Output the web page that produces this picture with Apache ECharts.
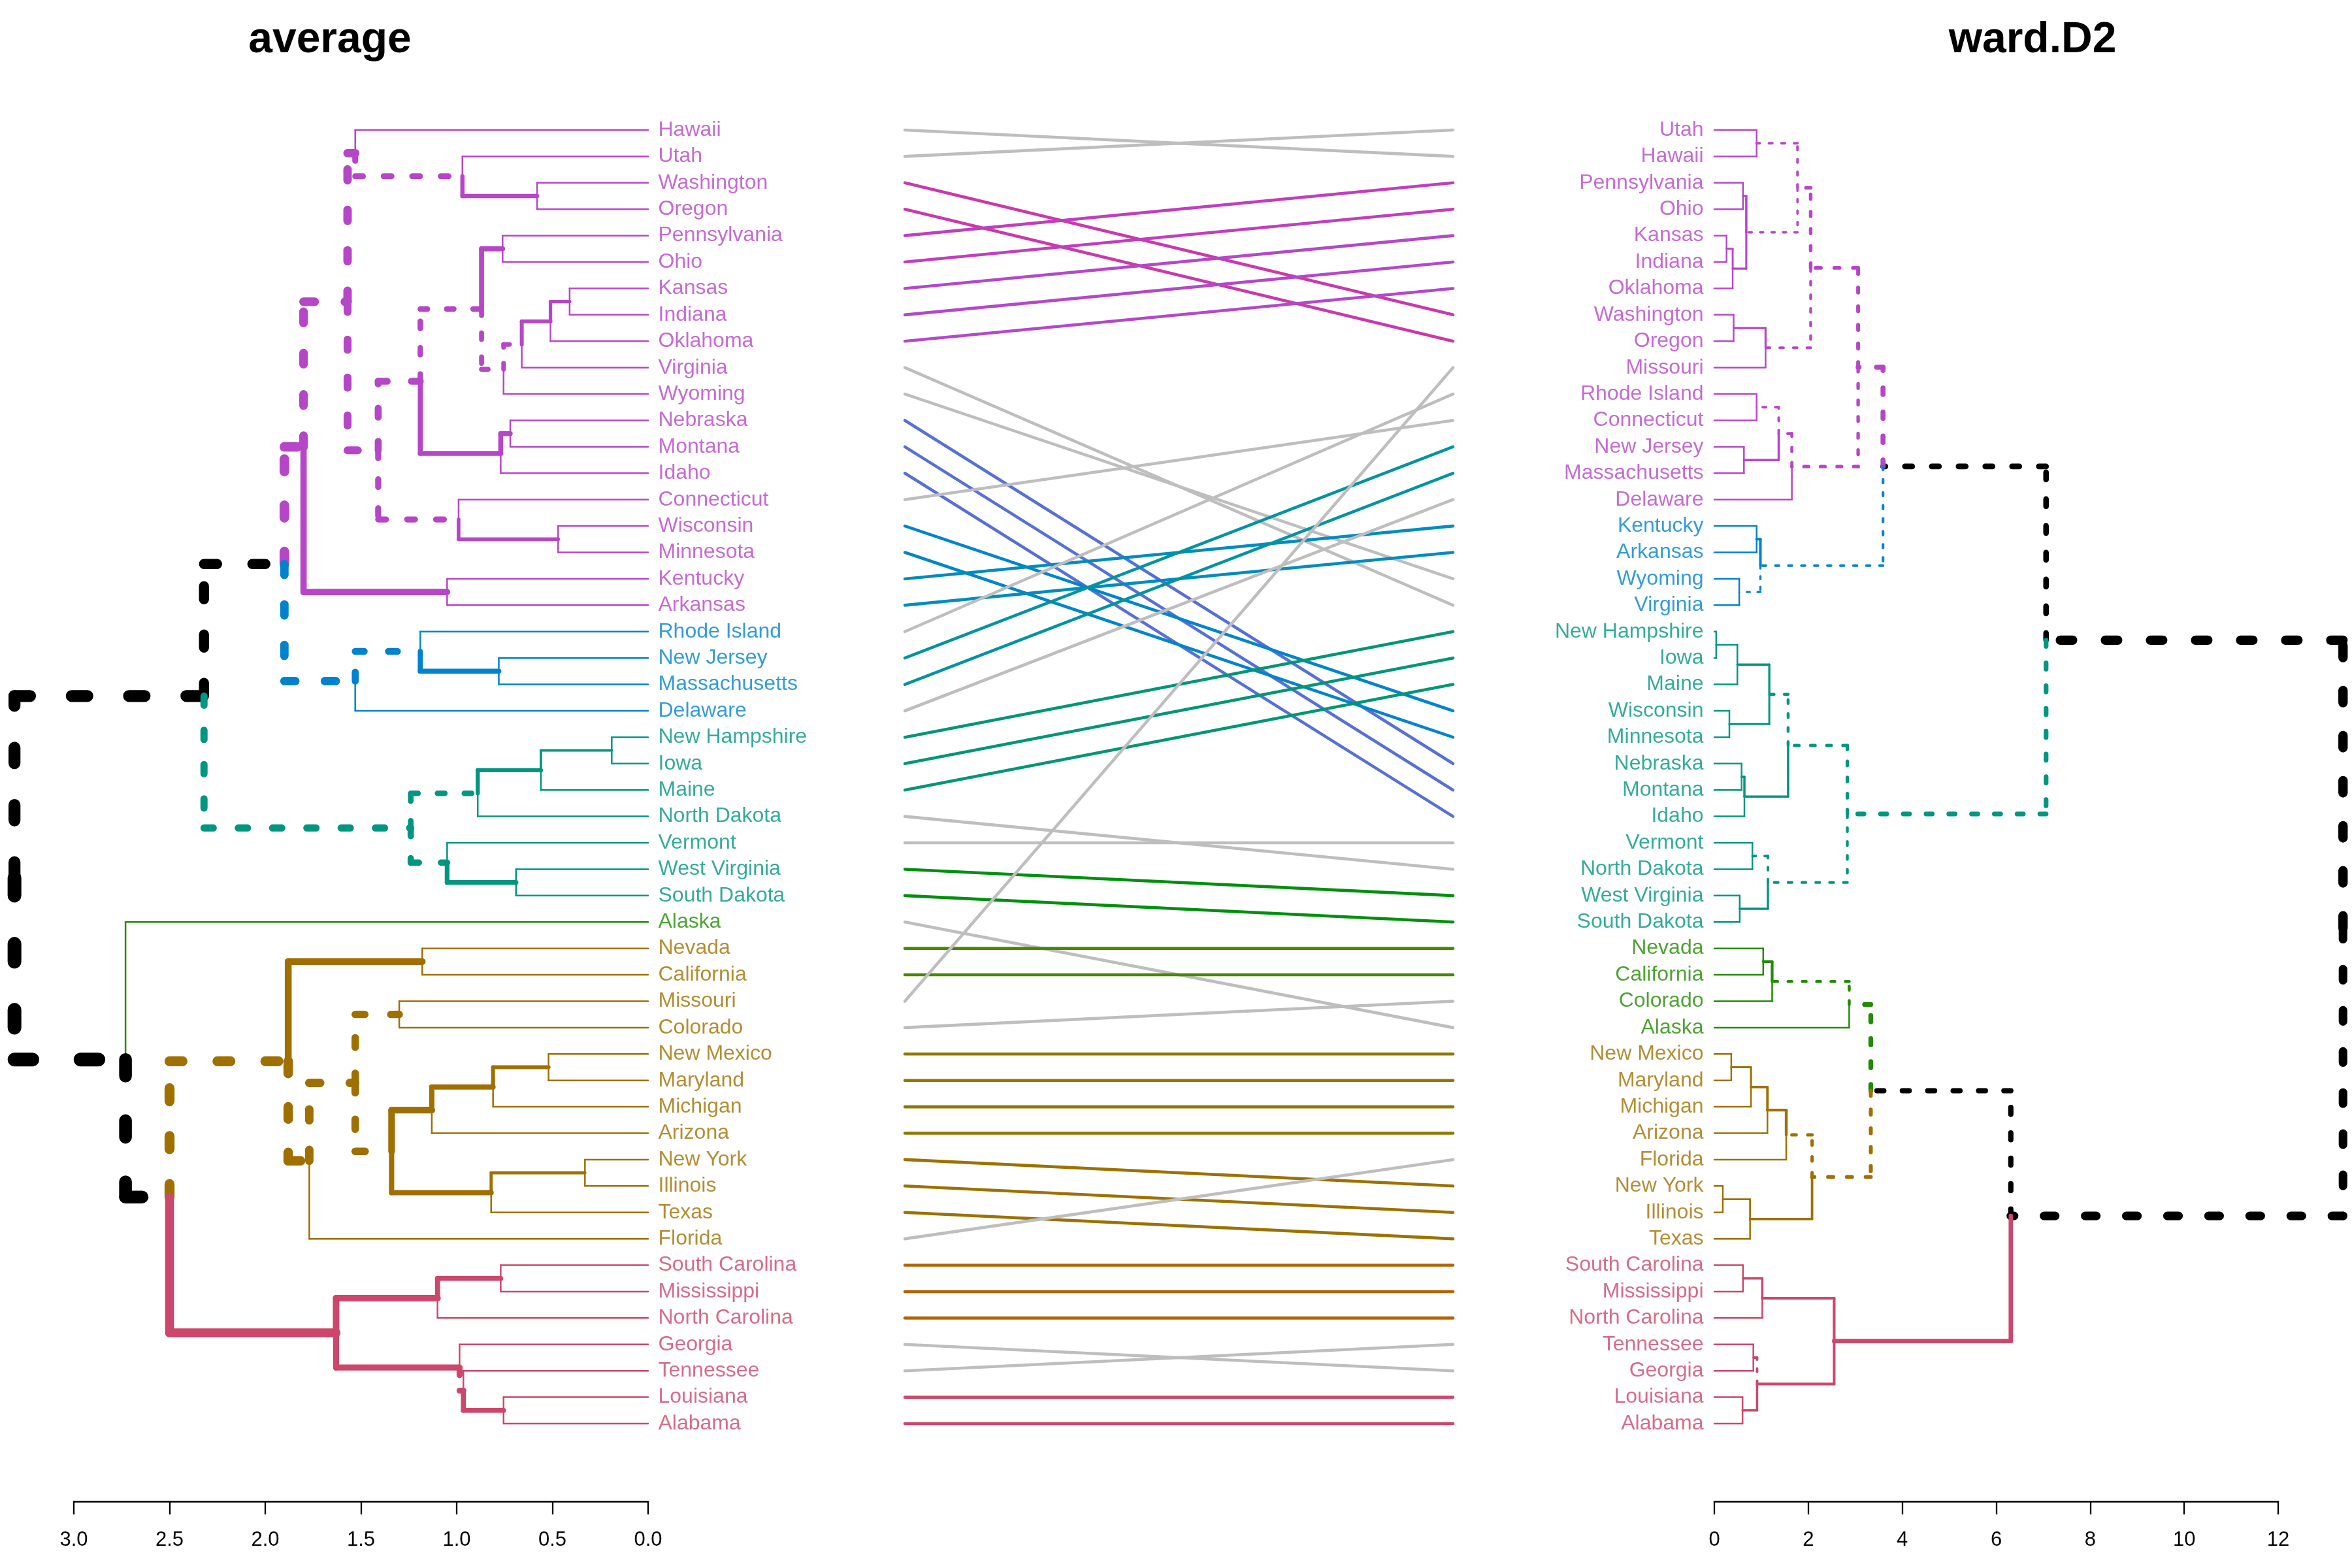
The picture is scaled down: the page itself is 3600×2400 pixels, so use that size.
<!DOCTYPE html>
<html>
<head>
<meta charset="utf-8">
<script src="https://cdn.jsdelivr.net/npm/echarts@6/dist/echarts.min.js"></script>
<style>
  html, body { margin: 0; padding: 0; background: #ffffff; }
  #chart { width: 3600px; height: 2400px; }
</style>
</head>
<body>
<div id="chart"></div>
<script>
// leaf order of each dendrogram, top to bottom
const leftOrder = ['Hawaii', 'Utah', 'Washington', 'Oregon', 'Pennsylvania', 'Ohio', 'Kansas', 'Indiana',
  'Oklahoma', 'Virginia', 'Wyoming', 'Nebraska', 'Montana', 'Idaho', 'Connecticut', 'Wisconsin',
  'Minnesota', 'Kentucky', 'Arkansas', 'Rhode Island', 'New Jersey', 'Massachusetts', 'Delaware',
  'New Hampshire', 'Iowa', 'Maine', 'North Dakota', 'Vermont', 'West Virginia', 'South Dakota', 'Alaska',
  'Nevada', 'California', 'Missouri', 'Colorado', 'New Mexico', 'Maryland', 'Michigan', 'Arizona',
  'New York', 'Illinois', 'Texas', 'Florida', 'South Carolina', 'Mississippi', 'North Carolina',
  'Georgia', 'Tennessee', 'Louisiana', 'Alabama'];

const rightOrder = ['Utah', 'Hawaii', 'Pennsylvania', 'Ohio', 'Kansas', 'Indiana', 'Oklahoma', 'Washington',
  'Oregon', 'Missouri', 'Rhode Island', 'Connecticut', 'New Jersey', 'Massachusetts', 'Delaware',
  'Kentucky', 'Arkansas', 'Wyoming', 'Virginia', 'New Hampshire', 'Iowa', 'Maine', 'Wisconsin',
  'Minnesota', 'Nebraska', 'Montana', 'Idaho', 'Vermont', 'North Dakota', 'West Virginia', 'South Dakota',
  'Nevada', 'California', 'Colorado', 'Alaska', 'New Mexico', 'Maryland', 'Michigan', 'Arizona', 'Florida',
  'New York', 'Illinois', 'Texas', 'South Carolina', 'Mississippi', 'North Carolina', 'Tennessee',
  'Georgia', 'Louisiana', 'Alabama'];

// merges: [node, child, child, height]
const leftMerges = [
  ['wo', 'Washington', 'Oregon', 0.58],
  ['b', 'Utah', 'wo', 0.97],
  ['a', 'Hawaii', 'b', 1.53],
  ['paoh', 'Pennsylvania', 'Ohio', 0.76],
  ['l', 'Kansas', 'Indiana', 0.41],
  ['m', 'l', 'Oklahoma', 0.51],
  ['k', 'm', 'Virginia', 0.66],
  ['j', 'k', 'Wyoming', 0.755],
  ['h', 'paoh', 'j', 0.87],
  ['nemo', 'Nebraska', 'Montana', 0.72],
  ['i', 'nemo', 'Idaho', 0.77],
  ['f', 'h', 'i', 1.19],
  ['wimi', 'Wisconsin', 'Minnesota', 0.47],
  ['g', 'Connecticut', 'wimi', 0.99],
  ['d', 'f', 'g', 1.41],
  ['c', 'a', 'd', 1.57],
  ['kyar', 'Kentucky', 'Arkansas', 1.05],
  ['e', 'c', 'kyar', 1.80],
  ['njma', 'New Jersey', 'Massachusetts', 0.78],
  ['rinjma', 'Rhode Island', 'njma', 1.19],
  ['blue', 'rinjma', 'Delaware', 1.53],
  ['n', 'e', 'blue', 1.90],
  ['nhia', 'New Hampshire', 'Iowa', 0.19],
  ['nhiame', 'nhia', 'Maine', 0.56],
  ['q', 'nhiame', 'North Dakota', 0.89],
  ['wvsd', 'West Virginia', 'South Dakota', 0.69],
  ['r', 'Vermont', 'wvsd', 1.05],
  ['teal', 'q', 'r', 1.24],
  ['p', 'n', 'teal', 2.32],
  ['nvca', 'Nevada', 'California', 1.18],
  ['moco', 'Missouri', 'Colorado', 1.30],
  ['nmmd', 'New Mexico', 'Maryland', 0.52],
  ['nmmdmi', 'nmmd', 'Michigan', 0.81],
  ['nmaz', 'nmmdmi', 'Arizona', 1.13],
  ['nyil', 'New York', 'Illinois', 0.33],
  ['nyiltx', 'nyil', 'Texas', 0.82],
  ['y', 'nmaz', 'nyiltx', 1.34],
  ['x', 'moco', 'y', 1.53],
  ['w', 'x', 'Florida', 1.77],
  ['v', 'nvca', 'w', 1.88],
  ['scms', 'South Carolina', 'Mississippi', 0.77],
  ['aa', 'scms', 'North Carolina', 1.10],
  ['laal', 'Louisiana', 'Alabama', 0.755],
  ['cc', 'Tennessee', 'laal', 0.965],
  ['bb', 'Georgia', 'cc', 0.985],
  ['red', 'aa', 'bb', 1.63],
  ['u', 'v', 'red', 2.50],
  ['t', 'Alaska', 'u', 2.73],
  ['root', 'p', 't', 3.31]
];

const rightMerges = [
  ['uh', 'Utah', 'Hawaii', 0.90],
  ['paoh', 'Pennsylvania', 'Ohio', 0.61],
  ['kain', 'Kansas', 'Indiana', 0.26],
  ['kio', 'kain', 'Oklahoma', 0.39],
  ['pk', 'paoh', 'kio', 0.68],
  ['up', 'uh', 'pk', 1.77],
  ['wo', 'Washington', 'Oregon', 0.41],
  ['wom', 'wo', 'Missouri', 1.09],
  ['upw', 'up', 'wom', 2.05],
  ['rict', 'Rhode Island', 'Connecticut', 0.90],
  ['njma', 'New Jersey', 'Massachusetts', 0.63],
  ['rn', 'rict', 'njma', 1.37],
  ['rnd', 'rn', 'Delaware', 1.65],
  ['purple', 'upw', 'rnd', 3.06],
  ['kyar', 'Kentucky', 'Arkansas', 0.90],
  ['wyva', 'Wyoming', 'Virginia', 0.53],
  ['blue', 'kyar', 'wyva', 0.98],
  ['pb', 'purple', 'blue', 3.59],
  ['nhia', 'New Hampshire', 'Iowa', 0.04],
  ['nhiame', 'nhia', 'Maine', 0.49],
  ['wimi', 'Wisconsin', 'Minnesota', 0.32],
  ['nw', 'nhiame', 'wimi', 1.17],
  ['nemo', 'Nebraska', 'Montana', 0.58],
  ['nmi', 'nemo', 'Idaho', 0.64],
  ['ta', 'nw', 'nmi', 1.57],
  ['vtnd', 'Vermont', 'North Dakota', 0.81],
  ['wvsd', 'West Virginia', 'South Dakota', 0.54],
  ['tb', 'vtnd', 'wvsd', 1.14],
  ['teal', 'ta', 'tb', 2.83],
  ['top', 'pb', 'teal', 7.06],
  ['nvca', 'Nevada', 'California', 1.04],
  ['nvcaco', 'nvca', 'Colorado', 1.23],
  ['green', 'nvcaco', 'Alaska', 2.87],
  ['nmmd', 'New Mexico', 'Maryland', 0.36],
  ['nmmdmi', 'nmmd', 'Michigan', 0.78],
  ['nmaz', 'nmmdmi', 'Arizona', 1.13],
  ['nmfl', 'nmaz', 'Florida', 1.53],
  ['nyil', 'New York', 'Illinois', 0.18],
  ['nyiltx', 'nyil', 'Texas', 0.76],
  ['brown', 'nmfl', 'nyiltx', 2.08],
  ['gb', 'green', 'brown', 3.33],
  ['scms', 'South Carolina', 'Mississippi', 0.61],
  ['scmsnc', 'scms', 'North Carolina', 1.02],
  ['tnga', 'Tennessee', 'Georgia', 0.83],
  ['laal', 'Louisiana', 'Alabama', 0.60],
  ['tgla', 'tnga', 'laal', 0.91],
  ['red', 'scmsnc', 'tgla', 2.55],
  ['bottom', 'gb', 'red', 6.31],
  ['root', 'top', 'bottom', 13.38]
];

const leftTicks = [3.0, 2.5, 2.0, 1.5, 1.0, 0.5, 0.0];
const rightTicks = [0, 2, 4, 6, 8, 10, 12];
const titles = ['average', 'ward.D2'];

// colorspace rainbow_hcl(n, c = 90, l = 50), reversed
function hcl(h, c, l) {
  const rad = h * Math.PI / 180;
  const u = c * Math.cos(rad), v = c * Math.sin(rad);
  const Y = Math.pow((l + 16) / 116, 3);
  const up = u / (13 * l) + 0.19784, vp = v / (13 * l) + 0.46834;
  const X = Y * 9 * up / (4 * vp), Z = Y * (12 - 3 * up - 20 * vp) / (4 * vp);
  const lin = [3.2406 * X - 1.5372 * Y - 0.4986 * Z,
    -0.9689 * X + 1.8758 * Y + 0.0415 * Z,
    0.0557 * X - 0.2040 * Y + 1.0570 * Z];
  return '#' + lin.map(t => {
    t = Math.min(1, Math.max(0, t));
    const s = t <= 0.0031308 ? 12.92 * t : 1.055 * Math.pow(t, 1 / 2.4) - 0.055;
    return Math.round(s * 255).toString(16).padStart(2, '0');
  }).join('');
}
function rainbowHcl(n) {
  const out = [];
  for (let i = 0; i < n; i++) out.push(hcl(360 * i / n, 90, 50));
  return out.reverse();
}

function buildTree(order, merges) {
  const T = { pos: {}, height: {}, kids: {}, leaves: {}, key: {}, keys: new Set() };
  order.forEach((n, i) => { T.pos[n] = i + 1; T.height[n] = 0; T.leaves[n] = [n]; });
  merges.forEach(([id, a, b, h]) => {
    T.pos[id] = (T.pos[a] + T.pos[b]) / 2;
    T.height[id] = h;
    T.kids[id] = [a, b];
    T.leaves[id] = T.leaves[a].concat(T.leaves[b]);
    T.key[id] = T.leaves[id].slice().sort().join('|');
    T.keys.add(T.key[id]);
  });
  T.root = merges[merges.length - 1][0];
  T.max = merges[merges.length - 1][3];
  return T;
}

const L = buildTree(leftOrder, leftMerges);
const R = buildTree(rightOrder, rightMerges);
const minPos = (T, id) => Math.min(...T.leaves[id].map(n => T.pos[n]));

// k = 6 branch colours, distinct edges dashed, line width from height
function treeSegments(T, other) {
  const k = 6;
  const sorted = Object.keys(T.kids).sort((a, b) => T.height[b] - T.height[a]);
  const above = new Set(sorted.slice(0, k - 1));
  const roots = [];
  above.forEach(id => T.kids[id].forEach(c => { if (!above.has(c)) roots.push(c); }));
  roots.sort((a, b) => minPos(T, a) - minPos(T, b));
  const pal = rainbowHcl(k);
  const col = {};
  const paint = (id, c) => { col[id] = c; (T.kids[id] || []).forEach(ch => paint(ch, c)); };
  roots.forEach((r, i) => paint(r, pal[i]));
  above.forEach(id => { col[id] = '#000000'; });
  const segs = [];
  const walk = id => {
    (T.kids[id] || []).forEach(c => {
      const st = {
        color: col[c],
        lwd: 1 + 9 * T.height[c] / T.max,
        dashed: !!T.kids[c] && !other.keys.has(T.key[c])
      };
      segs.push([T.height[id], T.pos[id], T.height[id], T.pos[c], st]);
      segs.push([T.height[id], T.pos[c], T.height[c], T.pos[c], st]);
      walk(c);
    });
  };
  walk(T.root);
  return { segs, col };
}

const leftDraw = treeSegments(L, R);
const rightDraw = treeSegments(R, L);

// common subtrees for the connecting lines; single leaves count as groups but stay grey
function fullyCommon(T, other, id) {
  if (!T.kids[id]) return true;
  return other.keys.has(T.key[id]) && T.kids[id].every(c => fullyCommon(T, other, c));
}
const inCommon = {};
(function find(id) {
  if (!L.kids[id]) return;
  if (fullyCommon(L, R, id)) { L.leaves[id].forEach(n => { inCommon[n] = id; }); return; }
  L.kids[id].forEach(find);
})(L.root);
const groups = [];
let lastGroup = null;
leftOrder.forEach(n => {
  const g = inCommon[n] || null;
  if (g && g === lastGroup) groups[groups.length - 1].push(n);
  else groups.push([n]);
  lastGroup = g;
});
const linePal = rainbowHcl(groups.length);
const lineColor = {};
groups.forEach((g, j) => { if (inCommon[g[0]]) g.forEach(n => { lineColor[n] = linePal[j]; }); });
const links = leftOrder.map((n, i) => [i + 1, R.pos[n]]);
const linkColors = leftOrder.map(n => lineColor[n] || '#BEBEBE');

const PX = 2.5;
function edgeSeries(segs, idx) {
  return {
    type: 'custom',
    xAxisIndex: idx,
    yAxisIndex: idx,
    clip: false,
    silent: true,
    data: segs.map(s => s.slice(0, 4)),
    renderItem: function (params, api) {
      const st = segs[params.dataIndex][4];
      const a = api.coord([api.value(0), api.value(1)]);
      const b = api.coord([api.value(2), api.value(3)]);
      const w = PX * st.lwd;
      return {
        type: 'line',
        shape: { x1: a[0], y1: a[1], x2: b[0], y2: b[1] },
        style: {
          stroke: st.color, lineWidth: w, lineCap: 'round',
          lineDash: st.dashed ? [1.3 * w, 3.5 * w] : null
        }
      };
    }
  };
}

function labelSeries(order, col, idx, side, dist) {
  return {
    type: 'scatter',
    xAxisIndex: idx,
    yAxisIndex: idx,
    silent: true,
    symbolSize: 1,
    itemStyle: { color: 'rgba(0,0,0,0)' },
    data: order.map((n, i) => ({ name: n, value: [0, i + 1], label: { color: col[n] } })),
    label: { show: true, position: side, distance: dist, formatter: '{b}', fontSize: 32,
      fontFamily: 'Liberation Sans' }
  };
}

function heightAxis(idx, ticks, digits) {
  return {
    gridIndex: idx,
    type: 'value',
    min: Math.min(...ticks),
    max: Math.max(...ticks),
    interval: Math.abs(ticks[1] - ticks[0]),
    inverse: ticks[0] > ticks[1],
    position: 'bottom',
    offset: 119,
    axisLine: { show: true, onZero: false, lineStyle: { color: '#000', width: 2.5 } },
    axisTick: { show: true, length: 20, lineStyle: { color: '#000', width: 2.3 } },
    axisLabel: { fontSize: 31, color: '#000', margin: 44, fontFamily: 'Liberation Sans',
      formatter: v => v.toFixed(digits) },
    splitLine: { show: false }
  };
}

const chart = echarts.init(document.getElementById('chart'));
const option = {
  animation: false,
  backgroundColor: '#ffffff',
  textStyle: { fontFamily: 'Liberation Sans' },
  graphic: [
    { type: 'text', x: 505, y: 62, style: { text: titles[0], font: 'bold 66px "Liberation Sans"',
      fill: '#000', textAlign: 'center', textVerticalAlign: 'middle' } },
    { type: 'text', x: 3111, y: 62, style: { text: titles[1], font: 'bold 66px "Liberation Sans"',
      fill: '#000', textAlign: 'center', textVerticalAlign: 'middle' } }
  ],
  grid: [
    { left: 113, width: 879, top: 199, height: 1980, outerBoundsMode: 'none' },
    { left: 1385, width: 839, top: 199, height: 1980, outerBoundsMode: 'none' },
    { left: 2624, width: 863, top: 199, height: 1980, outerBoundsMode: 'none' }
  ],
  xAxis: [
    heightAxis(0, leftTicks, 1),
    { gridIndex: 1, type: 'value', min: 0, max: 1, show: false },
    heightAxis(2, rightTicks, 0)
  ],
  yAxis: [0, 1, 2].map(i => ({ gridIndex: i, type: 'value', min: 1, max: 50, inverse: true, show: false })),
  series: [
    {
      type: 'custom',
      xAxisIndex: 1,
      yAxisIndex: 1,
      clip: false,
      silent: true,
      data: links,
      renderItem: function (params, api) {
        const a = api.coord([0, api.value(0)]);
        const b = api.coord([1, api.value(1)]);
        return {
          type: 'line',
          shape: { x1: a[0], y1: a[1], x2: b[0], y2: b[1] },
          style: { stroke: linkColors[params.dataIndex], lineWidth: 4.6, lineCap: 'round' }
        };
      }
    },
    edgeSeries(leftDraw.segs, 0),
    edgeSeries(rightDraw.segs, 2),
    labelSeries(leftOrder, leftDraw.col, 0, 'right', 15),
    labelSeries(rightOrder, rightDraw.col, 2, 'left', 16)
  ]
};
chart.setOption(option);
window.addEventListener('resize', chart.resize);
</script>
</body>
</html>
